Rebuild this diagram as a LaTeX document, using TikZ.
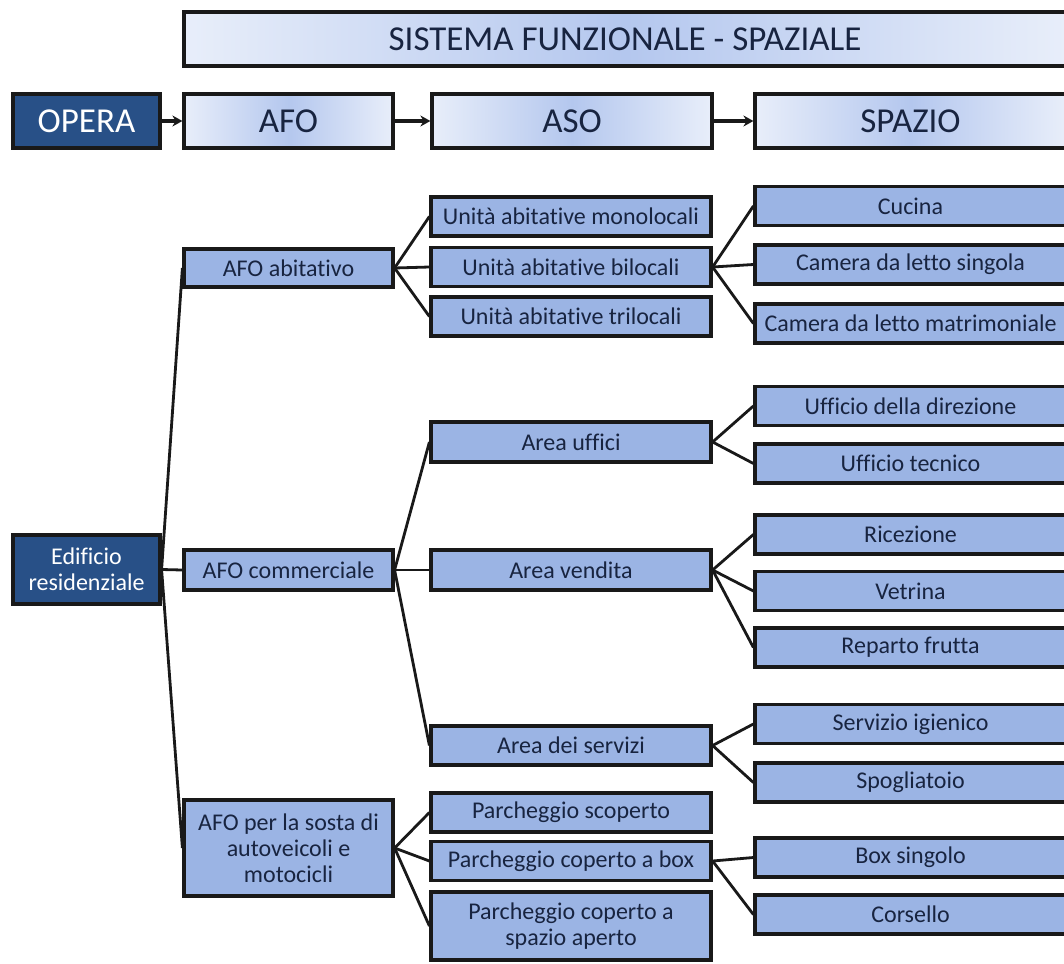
\documentclass[tikz,border=0pt]{standalone}
\usepackage{fontspec}
\setmainfont{Carlito}[Ligatures=NoCommon]
\usepackage{xcolor}
\usepackage{tikz}
\usetikzlibrary{arrows.meta}

\definecolor{boxblue}{RGB}{155,180,228}
\definecolor{darkblue}{RGB}{40,80,135}
\definecolor{hdlight}{RGB}{232,238,250}
\definecolor{hdmid}{RGB}{180,199,238}
\definecolor{txtnavy}{RGB}{24,36,64}

\begin{document}
\begin{tikzpicture}[x=1pt, y=-1pt,
    box/.style={draw=black!90, line width=3.2pt, fill=boxblue, text=txtnavy, inner sep=0pt,
        align=center, minimum height=39pt, font=\fontsize{24}{26}\selectfont},
    hdbox/.style={box, left color=hdlight, right color=hdlight, middle color=hdmid,
        minimum height=54pt, font=\fontsize{35}{40}\selectfont},
    darkbox/.style={box, fill=darkblue, text=white},
    colA/.style={minimum width=147pt},
    colB/.style={minimum width=209pt},
    colC/.style={minimum width=280pt},
    colD/.style={minimum width=311pt},
    link/.style={line width=2.8pt, draw=black!90},
    flow/.style={link, line width=3.2pt, -{Stealth[length=10pt, width=11pt]}}]
\useasboundingbox (0,0) rectangle (1064,963);
\clip (0,0) rectangle (1064,963);

% header
\node[hdbox, minimum width=882pt] (title) at (625,39) {SISTEMA FUNZIONALE - SPAZIALE};
\node[darkbox, colA, minimum height=54pt, font=\fontsize{35}{40}\selectfont] (opera) at (86.5,121) {OPERA};
\node[hdbox, colB] (hafo) at (288.5,121) {AFO};
\node[hdbox, colC] (haso) at (572,121) {ASO};
\node[hdbox, colD] (hspazio) at (910.5,121) {SPAZIO};

\draw[flow] (opera) -- (hafo);
\draw[flow] (hafo) -- (haso);
\draw[flow] (haso) -- (hspazio);

% opera
\node[darkbox, colA, minimum height=69pt] (edif) at (86.5,569.5) {Edificio\\residenziale};

% AFO
\node[box, colB, minimum height=38pt] (abit) at (288.5,268) {AFO abitativo};
\node[box, colB, minimum height=40pt] (comm) at (288.5,570) {AFO commerciale};
\node[box, colB, minimum height=96pt] (sosta) at (288.5,848) {AFO per la sosta di\\autoveicoli e\\motocicli};

% ASO
\node[box, colC] (mono) at (571,216.5) {Unità abitative monolocali};
\node[box, colC] (bilo) at (571,267) {Unità abitative bilocali};
\node[box, colC] (tril) at (571,316.5) {Unità abitative trilocali};
\node[box, colC, minimum height=40pt] (uffici) at (571,442) {Area uffici};
\node[box, colC, minimum height=40pt] (vendita) at (571,570) {Area vendita};
\node[box, colC] (servizi) at (571,745.5) {Area dei servizi};
\node[box, colC] (scoperto) at (571,812.5) {Parcheggio scoperto};
\node[box, colC] (pbox) at (571,861) {Parcheggio coperto a box};
\node[box, colC, minimum height=68pt] (aperto) at (571,926) {Parcheggio coperto a\\spazio aperto};

% spazi
\node[box, colD] (cucina) at (910.5,206) {Cucina};
\node[box, colD] (singola) at (910.5,264.5) {Camera da letto singola};
\node[box, colD] (matrim) at (910.5,323.5) {Camera da letto matrimoniale};
\node[box, colD] (direz) at (910.5,406) {Ufficio della direzione};
\node[box, colD] (tecnico) at (910.5,463.5) {Ufficio tecnico};
\node[box, colD] (ricez) at (910.5,534.5) {Ricezione};
\node[box, colD] (vetrina) at (910.5,591) {Vetrina};
\node[box, colD] (frutta) at (910.5,647.5) {Reparto frutta};
\node[box, colD] (igien) at (910.5,724) {Servizio igienico};
\node[box, colD] (spogl) at (910.5,782.5) {Spogliatoio};
\node[box, colD] (boxsing) at (910.5,857.5) {Box singolo};
\node[box, colD] (corsello) at (910.5,914.5) {Corsello};

% connectors
\foreach \a/\b in {edif/abit, edif/comm, edif/sosta,
        abit/mono, abit/bilo, abit/tril,
        comm/uffici, comm/vendita, comm/servizi,
        sosta/scoperto, sosta/pbox, sosta/aperto,
        bilo/cucina, bilo/singola, bilo/matrim,
        uffici/direz, uffici/tecnico,
        vendita/ricez, vendita/vetrina, vendita/frutta,
        servizi/igien, servizi/spogl,
        pbox/boxsing, pbox/corsello}
    \draw[link] (\a.east) -- (\b.west);
\end{tikzpicture}
\end{document}
